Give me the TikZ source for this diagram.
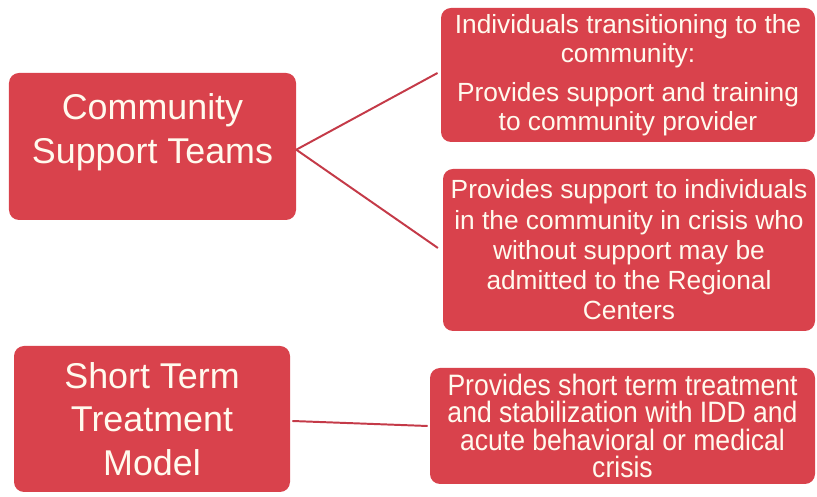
\documentclass[tikz,border=0pt]{standalone}
\usepackage{fontspec}
\setmainfont{Liberation Sans}
\usetikzlibrary{positioning}
\definecolor{boxred}{RGB}{217,66,76}
\definecolor{linered}{RGB}{196,58,72}
\definecolor{boxtext}{RGB}{255,250,238}

\begin{document}
\begin{tikzpicture}[
    mainbox/.style={rectangle, rounded corners=0.25cm, fill=boxred, text=boxtext, inner sep=0pt, align=center, font=\fontsize{25.5}{31}\selectfont},
    infobox/.style={rectangle, rounded corners=0.25cm, fill=boxred, text=boxtext, inner sep=0pt, align=center, font=\fontsize{18.7}{21.5}\selectfont},
    link/.style={-, draw=linered, line width=1.4pt}
  ]
    \useasboundingbox (0,0) rectangle (20.425,-12.425);

    % Boxes on the left
    \node[mainbox, minimum width=7.175cm, minimum height=3.675cm] (teams) at (3.8125,-3.6625) {};
    \node[mainbox, fill=none] (teamstext) at ([yshift=0.36cm]teams.center) {Community\\Support Teams};
    \node[mainbox, minimum width=6.9cm, minimum height=3.65cm] (model) at (3.8,-10.475) {Short Term\\Treatment\\Model};

    % Boxes on the right
    \node[infobox, minimum width=9.35cm, minimum height=3.35cm, font=\fontsize{18.7}{20.5}\selectfont] (transition) at (15.7,-1.875)
        {Individuals transitioning to the\\community:\\[0.25cm]Provides support and training\\to community provider};
    \node[infobox, minimum width=9.3cm, minimum height=4.05cm] (crisis) at (15.725,-6.25)
        {Provides support to individuals\\in the community in crisis who\\without support may be\\admitted to the Regional\\Centers};
    \node[infobox, minimum width=9.625cm, minimum height=2.9cm, font=\fontsize{21}{19.3}\selectfont\addfontfeature{FakeStretch=0.9}] (treatment) at (15.5625,-10.65)
        {Provides short term treatment\\and stabilization with IDD and\\acute behavioral or medical\\crisis};

    % Connections
    \draw[link] ([yshift=-0.08cm]teams.east) -- ([xshift=-0.08cm, yshift=0.05cm]transition.west);
    \draw[link] ([yshift=-0.08cm]teams.east) -- ([xshift=-0.12cm, yshift=0.05cm]crisis.west);
    \draw[link] ([xshift=0.05cm, yshift=-0.05cm]model.east) -- ([xshift=-0.05cm]treatment.west);
\end{tikzpicture}
\end{document}
